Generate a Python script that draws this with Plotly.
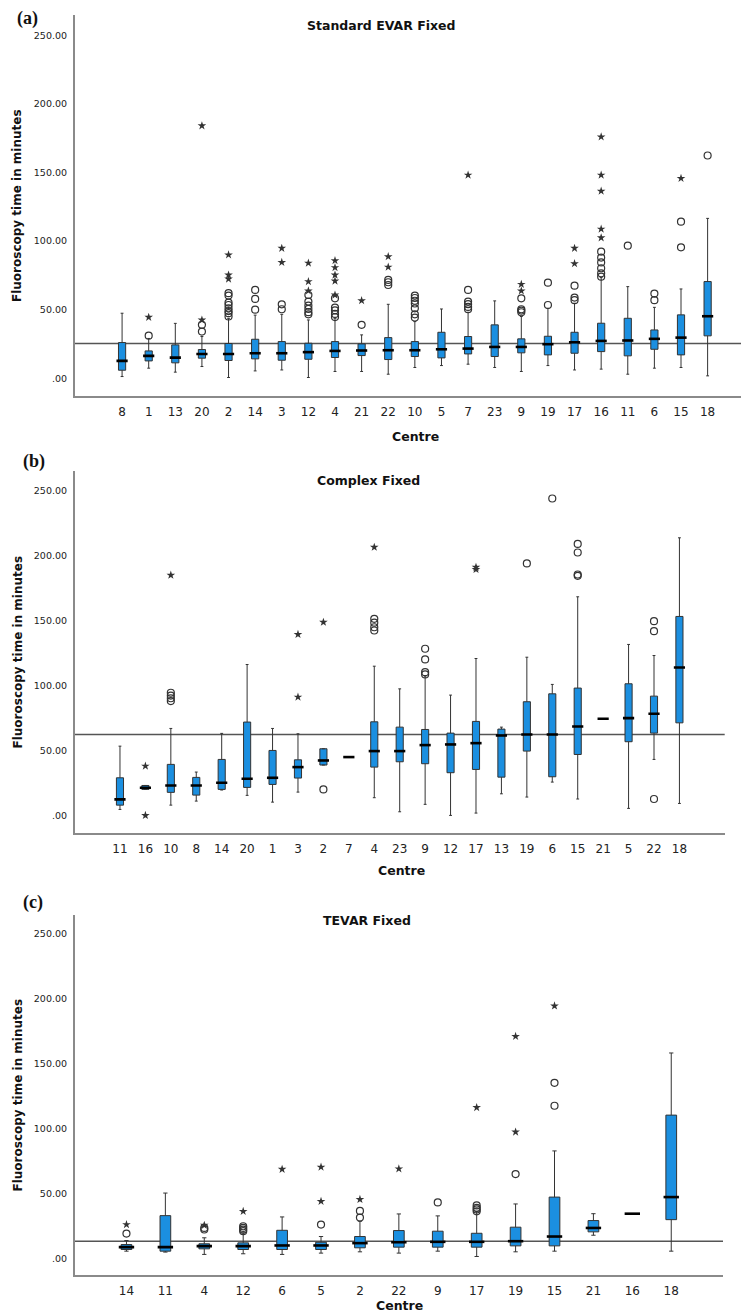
import plotly.graph_objects as go

# ---------------- data ----------------
# (a) Standard EVAR Fixed
a_centres = ["8","1","13","20","2","14","3","12","4","21","22","10","5","7","23","9","19","17","16","11","6","15","18"]
a_lo  = [1.2, 7.3, 4.4, 8.5, 0.5, 5.3, 6.0, 0.5, 4.9, 4.9, 2.9, 7.8, 9.2, 10.2, 7.8, 4.9, 9.2, 6.0, 6.6, 2.9, 7.3, 7.8, 1.7]
a_q1  = [5.8, 12.6, 11.2, 14.6, 12.9, 14.1, 13.1, 13.8, 15.1, 16.5, 13.6, 15.8, 14.8, 17.7, 15.8, 18.5, 17.0, 18.2, 19.4, 16.3, 21.1, 17.0, 30.9]
a_med = [12.6, 16.3, 15.0, 17.7, 17.7, 18.2, 18.2, 19.0, 19.9, 20.2, 20.4, 20.4, 21.1, 21.6, 22.8, 22.8, 24.8, 26.2, 27.2, 27.5, 28.7, 29.6, 45.2]
a_q3  = [26.0, 19.9, 24.3, 20.9, 25.3, 28.4, 26.7, 25.5, 26.7, 25.0, 29.6, 26.7, 33.5, 30.4, 38.9, 28.7, 30.6, 33.5, 40.1, 43.7, 35.2, 46.2, 70.5]
a_hi  = [47.4, 29.0, 40.0, 30.4, 43.7, 46.0, 46.6, 42.5, 43.7, 31.6, 53.9, 41.3, 50.5, 48.1, 56.4, 45.0, 51.0, 54.7, 73.4, 66.8, 51.7, 65.1, 116.6]
a_circ_x = ["1","20","20","2","2","2","2","2","2","2","2","14","14","14","3","3",
            "12","12","12","12","12","12","4","4","4","4","4","21","22","22","22",
            "10","10","10","10","10","10","10","7","7","7","7","7","9","9","9","9",
            "19","19","17","17","17","16","16","16","16","16","16","11","6","6","15","15","18"]
a_circ_y = [31.0, 38.9, 34.0, 62.0, 60.3, 55.2, 53.4, 51.0, 49.0, 47.4, 45.0, 64.4, 57.8, 50.0, 53.9, 50.3,
            60.7, 55.9, 53.0, 50.5, 48.2, 46.6, 58.3, 51.5, 49.5, 46.9, 44.6, 38.9, 71.7, 70.0, 68.0,
            60.3, 58.5, 56.5, 54.5, 51.0, 46.6, 44.2, 64.4, 55.9, 54.0, 52.0, 50.3, 58.3, 50.3, 49.3, 48.1,
            69.7, 53.4, 67.5, 58.8, 56.9, 92.3, 88.0, 84.5, 80.2, 76.5, 74.1, 96.7, 61.7, 56.9, 114.2, 95.5, 162.5]
a_star_x = ["1","20","20","2","2","2","3","3","12","12","12","4","4","4","4","4","21",
            "22","22","7","9","9","17","17","16","16","16","16","16","15"]
a_star_y = [44.5, 184.2, 42.5, 90.0, 75.3, 72.4, 94.8, 84.5, 84.0, 70.5, 63.7, 85.8, 80.7, 75.3, 70.9, 60.7, 56.6,
            88.7, 81.1, 148.2, 68.5, 63.7, 94.8, 83.6, 176.1, 148.2, 136.5, 108.8, 102.5, 145.8]
a_ref = 25.3

# (b) Complex Fixed
b_centres = ["11","16","10","8","14","20","1","3","2","7","4","23","9","12","17","13","19","6","15","21","5","22","18"]
b_lo  = [5.1, 20.5, 8.4, 11.5, 20.0, 15.9, 10.7, 18.4, 39.2, 45.3, 14.1, 3.3, 9.0, 0.5, 2.3, 17.1, 14.6, 26.1, 13.1, 74.7, 5.9, 43.5, 9.7]
b_q1  = [8.4, 20.5, 18.2, 16.1, 20.5, 22.0, 24.3, 29.2, 39.2, 45.3, 37.6, 41.7, 40.2, 33.3, 35.8, 29.9, 49.9, 30.2, 47.3, 74.7, 57.1, 63.7, 71.6]
b_med = [12.8, 21.8, 23.5, 23.5, 25.6, 28.7, 29.4, 37.6, 42.7, 45.3, 49.9, 49.9, 54.5, 55.0, 56.0, 61.9, 62.7, 62.7, 68.8, 74.7, 75.2, 78.6, 114.1]
b_q3  = [29.4, 23.5, 39.7, 29.7, 43.5, 72.2, 50.4, 43.2, 51.7, 45.3, 72.4, 68.3, 66.5, 63.7, 72.7, 66.8, 87.8, 93.9, 98.3, 74.7, 101.6, 92.1, 153.3]
b_hi  = [53.7, 23.5, 67.3, 33.8, 63.5, 116.4, 67.3, 63.2, 51.7, 45.3, 115.1, 97.7, 107.5, 92.9, 121.0, 68.3, 122.0, 101.1, 168.4, 74.7, 131.8, 123.3, 213.7]
b_circ_x = ["10","10","10","10","2","4","4","4","4","9","9","9","9","19","6","15","15","15","15","22","22","22"]
b_circ_y = [94.7, 92.5, 90.5, 88.3, 20.5, 151.5, 148.5, 145.0, 142.5, 128.5, 120.3, 110.5, 108.8, 194.0, 243.9,
            209.0, 202.4, 185.5, 184.5, 149.7, 142.0, 13.1]
b_star_x = ["16","16","10","3","3","2","4","17","17"]
b_star_y = [38.4, 0.5, 185.0, 139.5, 91.4, 148.9, 206.5, 191.1, 189.4]
b_ref = 62.7

# (c) TEVAR Fixed
c_centres = ["14","11","4","12","6","5","2","22","9","17","19","15","21","16","18"]
c_lo  = [5.6, 4.9, 3.1, 3.6, 3.1, 4.1, 5.1, 4.1, 5.6, 1.5, 5.1, 5.6, 17.9, 34.5, 5.6]
c_q1  = [6.9, 5.6, 7.4, 6.9, 6.9, 6.9, 8.2, 8.7, 8.7, 8.7, 9.7, 9.7, 20.5, 34.5, 29.9]
c_med = [8.7, 8.7, 9.5, 9.5, 10.0, 10.0, 11.8, 12.5, 12.8, 12.8, 13.3, 16.9, 23.5, 34.5, 47.3]
c_q3  = [10.7, 33.0, 11.3, 12.0, 21.7, 12.5, 16.9, 21.5, 21.0, 19.4, 24.1, 47.3, 29.2, 34.5, 110.5]
c_hi  = [13.8, 50.4, 15.9, 19.7, 32.0, 16.9, 28.7, 34.3, 32.8, 36.3, 42.0, 82.9, 34.5, 34.5, 158.4]
c_circ_x = ["14","4","4","12","12","12","12","5","2","2","9","17","17","17","17","19","15","15"]
c_circ_y = [19.2, 23.5, 22.3, 24.8, 23.5, 22.2, 21.0, 26.1, 36.6, 31.5, 43.2, 40.9, 39.0, 37.8, 36.3, 65.0, 135.4, 117.7]
c_star_x = ["14","4","12","6","5","5","2","22","17","19","19","15"]
c_star_y = [26.1, 25.6, 36.3, 68.8, 70.4, 44.0, 45.5, 69.1, 116.4, 171.2, 97.5, 194.7]
c_ref = 13.3

y_tickvals = [0, 50, 100, 150, 200, 250]
y_ticktext = [".00", "50.00", "100.00", "150.00", "200.00", "250.00"]

panel_titles = ["Standard EVAR Fixed", "Complex Fixed", "TEVAR Fixed"]
panel_tags = ["(a)", "(b)", "(c)"]

# ---------------- figure ----------------
W, H = 749, 1314
BLUE = "#1B8FE0"
EDGE = "#333333"
FONT = "DejaVu Sans"

def px_x(p):
    return p / W

def px_y(p):
    return 1 - p / H

panels = [
    dict(c=a_centres, lo=a_lo, q1=a_q1, med=a_med, q3=a_q3, hi=a_hi,
         cx=a_circ_x, cy=a_circ_y, sx=a_star_x, sy=a_star_y, ref=a_ref,
         xdom=[px_x(66.7), px_x(747)], ydom=[px_y(388), px_y(7)], pad=1.78, bw=0.27, msz=8,
         title_xy=(373, 17), centre_xy=(407, 428), tag_xy=(7, 10.5)),
    dict(c=b_centres, lo=b_lo, q1=b_q1, med=b_med, q3=b_q3, hi=b_hi,
         cx=b_circ_x, cy=b_circ_y, sx=b_star_x, sy=b_star_y, ref=b_ref,
         xdom=[px_x(66.7), px_x(716.7)], ydom=[px_y(825), px_y(463)], pad=1.78, bw=0.28, msz=8,
         title_xy=(360, 472), centre_xy=(393, 862), tag_xy=(13, 454)),
    dict(c=c_centres, lo=c_lo, q1=c_q1, med=c_med, q3=c_q3, hi=c_hi,
         cx=c_circ_x, cy=c_circ_y, sx=c_star_x, sy=c_star_y, ref=c_ref,
         xdom=[px_x(66.7), px_x(715)], ydom=[px_y(1267.3), px_y(906.7)], pad=1.33, bw=0.275, msz=11,
         title_xy=(358.5, 912), centre_xy=(392, 1297), tag_xy=(13, 894.5)),
]

fig = go.Figure()
layout = dict(width=W, height=H, margin=dict(l=0, r=0, t=0, b=0),
              paper_bgcolor="white", plot_bgcolor="white", showlegend=False,
              font=dict(family=FONT, color="#222"))
annotations = []
shapes = []

for i, p in enumerate(panels):
    sfx = "" if i == 0 else str(i + 1)
    xa, ya = "x" + sfx, "y" + sfx
    n = len(p["c"])
    fig.add_trace(go.Box(
        x=p["c"], q1=p["q1"], median=p["med"], q3=p["q3"],
        lowerfence=p["lo"], upperfence=p["hi"],
        fillcolor=BLUE, line=dict(color=EDGE, width=1),
        width=p["bw"], whiskerwidth=0.4, boxpoints=False,
        xaxis=xa, yaxis=ya, hoverinfo="skip"))
    # thick median bars
    fig.add_trace(go.Scatter(
        x=p["c"], y=p["med"], mode="markers", xaxis=xa, yaxis=ya,
        marker=dict(symbol="line-ew", size=p["msz"], line=dict(color="black", width=2.6)),
        hoverinfo="skip"))
    # outliers
    fig.add_trace(go.Scatter(
        x=p["cx"], y=p["cy"], mode="markers", xaxis=xa, yaxis=ya,
        marker=dict(symbol="circle-open", size=7, color="#333", line=dict(width=1.2)),
        hoverinfo="skip"))
    fig.add_trace(go.Scatter(
        x=p["sx"], y=p["sy"], mode="markers", xaxis=xa, yaxis=ya,
        marker=dict(symbol="star", size=6.5, color="#333", line=dict(width=0)),
        hoverinfo="skip"))
    # reference line
    shapes.append(dict(type="line", xref=xa + " domain", yref=ya, x0=0, x1=1,
                       y0=p["ref"], y1=p["ref"], line=dict(color="#555", width=1.5), layer="below"))

    layout["xaxis" + sfx] = dict(
        domain=p["xdom"], anchor=ya, type="category", categoryorder="array",
        categoryarray=p["c"], range=[-p["pad"], n - 1 + p["pad"]],
        showline=True, linecolor="#8a8a8a", linewidth=1.5, ticks="", showgrid=False,
        zeroline=False, tickfont=dict(family=FONT, size=12, color="#222"),
        ticklabelstandoff=4, fixedrange=True)
    layout["yaxis" + sfx] = dict(
        domain=p["ydom"], anchor=xa, range=[-13, 265],
        tickvals=y_tickvals, ticktext=y_ticktext,
        showline=True, linecolor="#8a8a8a", linewidth=1.5, ticks="", showgrid=False,
        zeroline=False, tickfont=dict(family=FONT, size=9.5, color="#222"),
        ticklabelstandoff=4, fixedrange=True)

    tx, ty = p["title_xy"]
    annotations.append(dict(text="<b>%s</b>" % panel_titles[i], xref="paper", yref="paper",
                            x=px_x(tx), y=px_y(ty), xanchor="center", yanchor="middle",
                            showarrow=False, font=dict(family=FONT, size=12.5, color="#111")))
    cx_, cy_ = p["centre_xy"]
    annotations.append(dict(text="<b>Centre</b>", xref="paper", yref="paper",
                            x=px_x(cx_), y=px_y(cy_), xanchor="center", yanchor="middle",
                            showarrow=False, borderpad=0,
                            font=dict(family=FONT, size=12.5, color="#111")))
    ymid = (p["ydom"][0] + p["ydom"][1]) / 2
    annotations.append(dict(text="<b>Fluoroscopy time in minutes</b>", xref="paper", yref="paper",
                            x=px_x(9.5), y=ymid, xanchor="center", yanchor="middle", textangle=-90,
                            showarrow=False, font=dict(family=FONT, size=12, color="#111")))
    gx, gy = p["tag_xy"]
    annotations.append(dict(text="<b>%s</b>" % panel_tags[i], xref="paper", yref="paper",
                            x=px_x(gx), y=px_y(gy), xanchor="left", yanchor="middle",
                            showarrow=False, font=dict(family="Liberation Serif", size=18, color="#111")))

layout["annotations"] = annotations
layout["shapes"] = shapes
fig.update_layout(**layout)
fig.write_html("out.html")
